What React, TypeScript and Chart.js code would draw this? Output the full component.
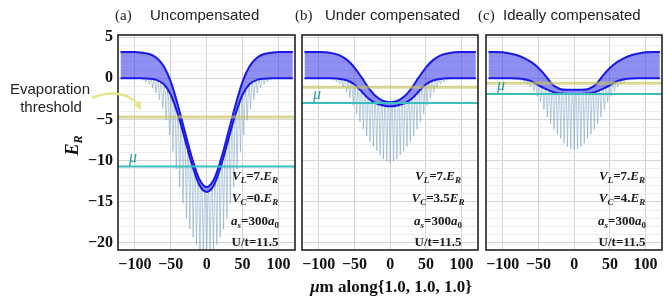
import React, { useEffect, useRef } from "react";
import { Chart, registerables } from "chart.js";
Chart.register(...registerables);

// ---------------- data ----------------
const XMIN = -123.5;
const XMAX = 123;
const YMIN = -20.85;
const YMAX = 5.25;
const X_STEP = 50;

const panelLetters = ["(a)", "(b)", "(c)"];
const panelTitles = ["Uncompensated", "Under compensated", "Ideally compensated"];

const bandX = [-120, -110, -100, -90, -80, -70, -60, -50, -40, -30, -20, -10, 0, 10, 20, 30, 40, 50, 60, 70, 80, 90, 100, 110, 120];

const upperA = [3.2, 3.2, 3.2, 3.1, 2.95, 2.5, 1.5, -0.4, -3.3, -6.6, -9.8, -12.3, -13.2, -12.3, -9.8, -6.6, -3.3, -0.4, 1.5, 2.5, 2.95, 3.1, 3.2, 3.2, 3.2];
const lowerA = [0, 0, 0, 0, -0.05, -0.2, -0.7, -2.0, -4.4, -7.5, -10.6, -13.0, -13.8, -13.0, -10.6, -7.5, -4.4, -2.0, -0.7, -0.2, -0.05, 0, 0, 0, 0];
const upperB = [3.2, 3.2, 3.2, 3.15, 3.0, 2.75, 2.2, 1.3, 0.1, -1.2, -2.2, -2.75, -2.9, -2.75, -2.2, -1.2, 0.1, 1.3, 2.2, 2.75, 3.0, 3.15, 3.2, 3.2, 3.2];
const lowerB = [0, 0, 0, 0, 0, -0.08, -0.28, -0.75, -1.6, -2.5, -3.05, -3.3, -3.4, -3.3, -3.05, -2.5, -1.6, -0.75, -0.28, -0.08, 0, 0, 0, 0, 0];
const upperC = [3.2, 3.2, 3.15, 3.0, 2.8, 2.45, 1.95, 1.25, 0.3, -0.8, -1.3, -1.4, -1.4, -1.4, -1.3, -0.8, 0.3, 1.25, 1.95, 2.45, 2.8, 3.0, 3.15, 3.2, 3.2];
const lowerC = [0, 0, 0, 0, -0.03, -0.12, -0.35, -0.85, -1.3, -1.65, -1.85, -1.9, -1.9, -1.9, -1.85, -1.65, -1.3, -0.85, -0.35, -0.12, -0.03, 0, 0, 0, 0];

const spikeX = [-89.3, -84.6, -79.9, -75.2, -70.5, -65.8, -61.1, -56.4, -51.7, -47.0, -42.3, -37.6, -32.9, -28.2, -23.5, -18.8, -14.1, -9.4, -4.7, 0, 4.7, 9.4, 14.1, 18.8, 23.5, 28.2, 32.9, 37.6, 42.3, 47.0, 51.7, 56.4, 61.1, 65.8, 70.5, 75.2, 79.9, 84.6, 89.3];

const spikeMinA = [-0.25, -0.45, -0.75, -1.2, -1.8, -2.6, -3.7, -5.1, -6.9, -8.9, -11.0, -13.2, -15.2, -17.0, -18.3, -19.3, -20.2, -20.9, -21.5, -21.8, -21.5, -20.9, -20.2, -19.3, -18.3, -17.0, -15.2, -13.2, -11.0, -8.9, -6.9, -5.1, -3.7, -2.6, -1.8, -1.2, -0.75, -0.45, -0.25];
const spikeTopA = [-0.05, -0.1, -0.15, -0.25, -0.4, -0.6, -1.0, -1.5, -2.2, -3.0, -4.1, -5.4, -6.9, -8.3, -9.9, -11.25, -12.4, -13.3, -13.9, -14.1, -13.9, -13.3, -12.4, -11.25, -9.9, -8.3, -6.9, -5.4, -4.1, -3.0, -2.2, -1.5, -1.0, -0.6, -0.4, -0.25, -0.15, -0.1, -0.05];
const spikeMinB = [-0.05, -0.12, -0.25, -0.45, -0.7, -1.1, -1.7, -2.4, -3.3, -4.3, -5.3, -6.2, -7.0, -7.7, -8.3, -8.8, -9.3, -9.8, -10.1, -10.3, -10.1, -9.8, -9.3, -8.8, -8.3, -7.7, -7.0, -6.2, -5.3, -4.3, -3.3, -2.4, -1.7, -1.1, -0.7, -0.45, -0.25, -0.12, -0.05];
const spikeTopB = [-0.03, -0.05, -0.08, -0.12, -0.2, -0.3, -0.42, -0.6, -0.82, -1.12, -1.5, -1.95, -2.4, -2.75, -3.05, -3.25, -3.35, -3.45, -3.5, -3.55, -3.5, -3.45, -3.35, -3.25, -3.05, -2.75, -2.4, -1.95, -1.5, -1.12, -0.82, -0.6, -0.42, -0.3, -0.2, -0.12, -0.08, -0.05, -0.03];
const spikeMinC = [-0.02, -0.05, -0.12, -0.25, -0.45, -0.7, -1.1, -1.6, -2.2, -2.9, -3.8, -4.7, -5.5, -6.2, -6.8, -7.3, -7.9, -8.3, -8.6, -8.7, -8.6, -8.3, -7.9, -7.3, -6.8, -6.2, -5.5, -4.7, -3.8, -2.9, -2.2, -1.6, -1.1, -0.7, -0.45, -0.25, -0.12, -0.05, -0.02];
const spikeTopC = [-0.02, -0.04, -0.07, -0.12, -0.2, -0.3, -0.42, -0.62, -0.88, -1.1, -1.32, -1.5, -1.65, -1.78, -1.88, -1.95, -1.98, -2.0, -2.0, -2.0, -2.0, -2.0, -1.98, -1.95, -1.88, -1.78, -1.65, -1.5, -1.32, -1.1, -0.88, -0.62, -0.42, -0.3, -0.2, -0.12, -0.07, -0.04, -0.02];

const evapLevels = [-4.7, -1.1, -0.6];
const muLevels = [-10.7, -3.0, -1.9];
const muLabel = "μ";

type Seg = [string, string]; // [text, style]  n normal, i italic, s italic-sub, ns normal-sub
const notesA: Seg[][] = [
  [["V", "i"], ["L", "s"], ["=7.", "n"], ["E", "i"], ["R", "s"]],
  [["V", "i"], ["C", "s"], ["=0.", "n"], ["E", "i"], ["R", "s"]],
  [["a", "i"], ["s", "s"], ["=300", "n"], ["a", "i"], ["0", "ns"]],
  [["U/t=11.5", "n"]],
];
const notesB: Seg[][] = [
  [["V", "i"], ["L", "s"], ["=7.", "n"], ["E", "i"], ["R", "s"]],
  [["V", "i"], ["C", "s"], ["=3.5", "n"], ["E", "i"], ["R", "s"]],
  [["a", "i"], ["s", "s"], ["=300", "n"], ["a", "i"], ["0", "ns"]],
  [["U/t=11.5", "n"]],
];
const notesC: Seg[][] = [
  [["V", "i"], ["L", "s"], ["=7.", "n"], ["E", "i"], ["R", "s"]],
  [["V", "i"], ["C", "s"], ["=4.", "n"], ["E", "i"], ["R", "s"]],
  [["a", "i"], ["s", "s"], ["=300", "n"], ["a", "i"], ["0", "ns"]],
  [["U/t=11.5", "n"]],
];
const yLabel: Seg[] = [["E", "i"], ["R", "s"]];
const xLabel: Seg[] = [["μ", "i"], ["m along{1.0, 1.0, 1.0}", "n"]];
const evapText = ["Evaporation", "threshold"];

// ---------------- layout / style ----------------
const W = 664;
const H = 302;
const SERIF = "'Liberation Serif', 'DejaVu Serif', serif";
const SANS = "'Liberation Sans', Arial, sans-serif";
const PANEL_LEFT = [118, 302, 486];
const PANEL_RIGHT = [295, 478, 662];
const PLOT_TOP = 35;
const XAXIS_H = 52;
const LETTER_X = [115, 295, 478];
const TITLE_X = [150, 325, 503];
const NOTE_OFFSETS = [-70, -48, -25, -4];
const SPIKE_HALF = 1.6;

const BAND_LINE = "rgb(25,25,235)";
const BAND_FILL = "rgba(60,60,235,0.58)";
const SPIKE_COLOR = "rgba(120,160,195,0.55)";
const EVAP_COLOR = "rgba(200,195,90,0.65)";
const MU_COLOR = "rgb(60,190,190)";
const MU_TEXT = "rgb(40,160,160)";

const panels = [
  { upper: upperA, lower: lowerA, smin: spikeMinA, stop: spikeTopA, notes: notesA },
  { upper: upperB, lower: lowerB, smin: spikeMinB, stop: spikeTopB, notes: notesB },
  { upper: upperC, lower: lowerC, smin: spikeMinC, stop: spikeTopC, notes: notesC },
];

const fmt = (v: number) => (v < 0 ? "\u2212" + Math.abs(v) : String(v));

function drawRich(ctx: CanvasRenderingContext2D, segs: Seg[], x: number, y: number, size: number, weight: string, align: "center" | "left") {
  const fontFor = (st: string) => {
    const sub = st === "s" || st === "ns";
    const it = st === "i" || st === "s";
    return `${it ? "italic " : ""}${weight} ${sub ? Math.round(size * 0.68) : size}px ${SERIF}`;
  };
  let total = 0;
  const widths = segs.map(([t, st]) => {
    ctx.font = fontFor(st);
    const w = ctx.measureText(t).width;
    total += w;
    return w;
  });
  let cx = align === "center" ? x - total / 2 : x;
  ctx.textAlign = "left";
  ctx.textBaseline = "alphabetic";
  segs.forEach(([t, st], i) => {
    ctx.font = fontFor(st);
    const sub = st === "s" || st === "ns";
    ctx.fillText(t, cx, y + (sub ? size * 0.22 : 0));
    cx += widths[i];
  });
}

function makeConfig(idx: number): any {
  const p = panels[idx];
  const showY = idx === 0;
  const deco = {
    id: "deco" + idx,
    afterDatasetsDraw(chart: any) {
      const { ctx, chartArea: ca, scales } = chart;
      const ys = scales.y;
      ctx.save();
      ctx.beginPath();
      ctx.rect(ca.left, ca.top, ca.right - ca.left, ca.bottom - ca.top);
      ctx.clip();
      const ye = ys.getPixelForValue(evapLevels[idx]);
      ctx.strokeStyle = EVAP_COLOR;
      ctx.lineWidth = 3;
      ctx.beginPath();
      ctx.moveTo(ca.left, ye);
      ctx.lineTo(ca.right, ye);
      ctx.stroke();
      const ym = ys.getPixelForValue(muLevels[idx]);
      ctx.strokeStyle = MU_COLOR;
      ctx.lineWidth = 2;
      ctx.beginPath();
      ctx.moveTo(ca.left, ym);
      ctx.lineTo(ca.right, ym);
      ctx.stroke();
      ctx.restore();

      ctx.save();
      ctx.fillStyle = MU_TEXT;
      ctx.font = `italic 16px ${SERIF}`;
      ctx.textAlign = "left";
      ctx.textBaseline = "alphabetic";
      ctx.fillText(muLabel, ca.left + 11, ym - 4);

      ctx.strokeStyle = "#222";
      ctx.lineWidth = 1.6;
      ctx.strokeRect(ca.left, ca.top, ca.right - ca.left, ca.bottom - ca.top);

      ctx.fillStyle = "#1a1a1a";
      p.notes.forEach((segs, k) => drawRich(ctx, segs, ca.right - 40, ca.bottom + NOTE_OFFSETS[k], 13, "bold", "center"));

      ctx.fillStyle = "#222";
      ctx.font = `15px ${SERIF}`;
      ctx.textAlign = "left";
      ctx.fillText(panelLetters[idx], LETTER_X[idx], 20);
      ctx.font = `15px ${SANS}`;
      ctx.fillText(panelTitles[idx], TITLE_X[idx], 20);

      if (idx === 0) {
        // y label
        ctx.save();
        ctx.translate(ca.left - 40, (ca.top + ca.bottom) / 2 + 3);
        ctx.rotate(-Math.PI / 2);
        ctx.fillStyle = "#111";
        drawRich(ctx, yLabel, 0, 0, 18, "bold", "center");
        ctx.restore();
        // x label
        ctx.fillStyle = "#111";
        drawRich(ctx, xLabel, (PANEL_LEFT[0] + PANEL_RIGHT[2]) / 2 + 1, 292, 17, "bold", "center");
        // evaporation text
        ctx.fillStyle = "#222";
        ctx.font = `15px ${SANS}`;
        ctx.textAlign = "center";
        ctx.fillText(evapText[0], 50, 94);
        ctx.fillText(evapText[1], 51, 112);
        // arrow
        const tipX = ca.left + 23;
        const tipY = ye - 7;
        ctx.strokeStyle = "rgb(232,228,140)";
        ctx.fillStyle = "rgb(232,228,140)";
        ctx.lineWidth = 2.5;
        ctx.beginPath();
        ctx.moveTo(92, 98);
        ctx.bezierCurveTo(108, 91, 126, 92, tipX - 4, tipY - 7);
        ctx.stroke();
        const ang = Math.atan2(7, 4);
        ctx.beginPath();
        ctx.moveTo(tipX, tipY);
        ctx.lineTo(tipX - 8 * Math.cos(ang) + 4 * Math.sin(ang), tipY - 8 * Math.sin(ang) - 4 * Math.cos(ang));
        ctx.lineTo(tipX - 8 * Math.cos(ang) - 4 * Math.sin(ang), tipY - 8 * Math.sin(ang) + 4 * Math.cos(ang));
        ctx.closePath();
        ctx.fill();
      }
      ctx.restore();
    },
  };

  const spikeData = spikeX.flatMap((x, i) => [
    { x: x - SPIKE_HALF, y: p.stop[i] },
    { x, y: p.smin[i] },
    { x: x + SPIKE_HALF, y: p.stop[i] },
  ]);

  return {
    type: "line",
    data: {
      datasets: [
        {
          data: bandX.map((x, i) => ({ x, y: p.lower[i] })),
          borderColor: BAND_LINE,
          borderWidth: 2,
          pointRadius: 0,
          fill: false,
          cubicInterpolationMode: "monotone",
        },
        {
          data: bandX.map((x, i) => ({ x, y: p.upper[i] })),
          borderColor: BAND_LINE,
          borderWidth: 2,
          pointRadius: 0,
          fill: "-1",
          backgroundColor: BAND_FILL,
          cubicInterpolationMode: "monotone",
        },
        {
          data: spikeData,
          borderColor: SPIKE_COLOR,
          borderWidth: 1,
          pointRadius: 0,
          fill: false,
          tension: 0,
        },
      ],
    },
    options: {
      animation: false,
      responsive: false,
      events: [],
      layout: {
        padding: {
          left: showY ? 0 : PANEL_LEFT[idx],
          right: W - PANEL_RIGHT[idx],
          top: PLOT_TOP,
          bottom: 0,
        },
      },
      plugins: { legend: { display: false }, tooltip: { enabled: false }, title: { display: false } },
      scales: {
        x: {
          type: "linear",
          min: XMIN,
          max: XMAX,
          afterFit: (s: any) => {
            s.height = XAXIS_H;
          },
          border: { display: false },
          grid: { color: "#d4d4d4", drawTicks: false, lineWidth: 1 },
          ticks: {
            stepSize: X_STEP,
            includeBounds: false,
            autoSkip: false,
            maxRotation: 0,
            padding: 5,
            color: "#111",
            font: { family: SERIF, size: 16, weight: "bold" },
            callback: (v: number) => fmt(v),
          },
        },
        y: {
          type: "linear",
          min: YMIN,
          max: YMAX,
          afterFit: (s: any) => {
            s.width = showY ? PANEL_LEFT[0] : 0;
          },
          border: { display: false },
          grid: {
            drawTicks: false,
            lineWidth: 1,
            color: (c: any) => (c.tick && Math.abs(c.tick.value % 5) < 1e-9 ? "#d4d4d4" : "#ececec"),
          },
          ticks: {
            display: showY,
            stepSize: 1,
            includeBounds: false,
            autoSkip: false,
            padding: 5,
            color: "#111",
            font: { family: SERIF, size: 16, weight: "bold" },
            callback: (v: number) => (Math.abs(v % 5) < 1e-9 ? fmt(v) : ""),
          },
        },
      },
    },
    plugins: [deco],
  };
}

function Panel({ idx }: { idx: number }) {
  const ref = useRef<HTMLCanvasElement | null>(null);
  useEffect(() => {
    if (!ref.current) return;
    const chart = new Chart(ref.current, makeConfig(idx));
    return () => chart.destroy();
  }, [idx]);
  return (
    <canvas
      ref={ref}
      width={W}
      height={H}
      style={{ position: "absolute", left: 0, top: 0, width: W, height: H }}
    />
  );
}

export default function App() {
  return (
    <div style={{ position: "fixed", left: 0, top: 0, width: W, height: H, background: "#fff", overflow: "hidden" }}>
      <Panel idx={0} />
      <Panel idx={1} />
      <Panel idx={2} />
    </div>
  );
}
